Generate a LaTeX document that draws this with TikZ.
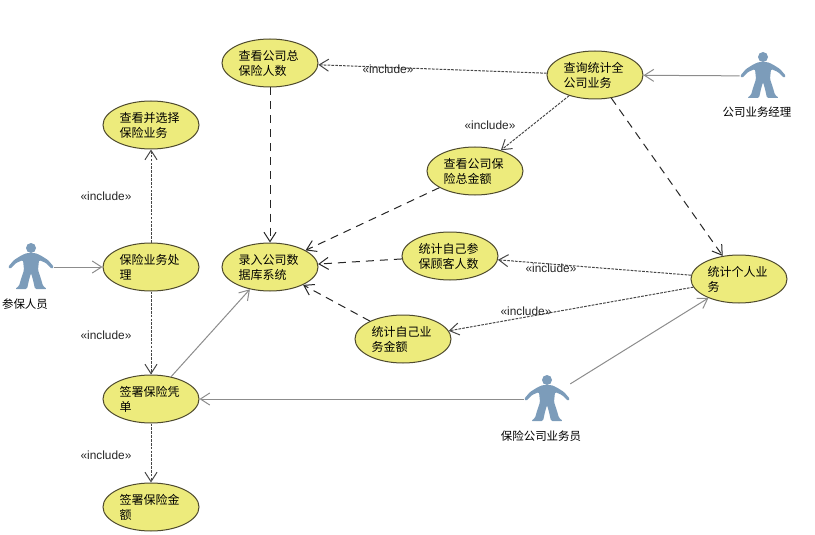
\documentclass[tikz,border=0pt]{standalone}
\usepackage{fontspec}
\setmainfont{Liberation Sans}
\newfontfamily\cjk{Noto Sans CJK SC}
\usetikzlibrary{arrows.meta,shapes.geometric}
\definecolor{usefill}{HTML}{EDEB7C}
\definecolor{useline}{HTML}{4F4B2E}
\definecolor{actorblue}{HTML}{7C9CBA}
\tikzset{
  usecase/.style={ellipse,draw=useline,fill=usefill,line width=0.75pt,minimum width=72pt,minimum height=36pt,inner sep=0pt,text width=47pt,align=left,font=\cjk\fontsize{9}{11.2}\selectfont},
  actorbox/.style={rectangle,minimum width=34.5pt,minimum height=34.5pt,inner sep=0pt},
  actorname/.style={font=\cjk\fontsize{8.6}{10}\selectfont},
  stereo/.style={font=\fontsize{8.9}{10}\selectfont,text=black!85},
  incl/.style={-{Straight Barb[length=7pt,width=9pt]},draw=black!72,line width=0.75pt,dash pattern=on 2pt off 0.9pt},
  dep/.style={-{Straight Barb[length=7pt,width=9pt]},draw=black!85,line width=0.75pt,dash pattern=on 6pt off 4.5pt},
  assoc/.style={-{Straight Barb[length=7pt,width=9pt]},draw=black!45,line width=0.75pt},
  actorfig/.pic={
    \fill[actorblue] (0,-19) circle (5);
    \fill[actorblue,rounded corners=1pt] (-4,-14) -- (4,-14) -- (9,-12) -- (17,-7) -- (23,0) -- (21,2) -- (15,-4) -- (8,-7) -- (7,3) -- (10,12) -- (12,19) -- (16,22) -- (4,22) -- (2,13) -- (0,6) -- (-2,13) -- (-4,22) -- (-16,22) -- (-12,19) -- (-10,12) -- (-7,3) -- (-8,-7) -- (-15,-4) -- (-21,2) -- (-23,0) -- (-17,-7) -- (-9,-12) -- cycle;
  }
}
\begin{document}
\begin{tikzpicture}[x=0.75pt,y=-0.75pt]

\useasboundingbox (0,0) rectangle (815,535);

% use cases, left column
\node (choose) at (151,125) [usecase]{查看并选择\\保险业务};
\node (handle) at (151,267) [usecase]{保险业务处\\理};
\node (sign) at (151,399) [usecase]{签署保险凭\\单};
\node (amount) at (151,507) [usecase]{签署保险金\\额};

% use cases, middle
\node (total) at (270,63) [usecase]{查看公司总\\保险人数};
\node (entry) at (270,267) [usecase]{录入公司数\\据库系统};
\node (sum) at (475,171) [usecase]{查看公司保\\险总金额};
\node (clients) at (450,256) [usecase]{统计自己参\\保顾客人数};
\node (own) at (403,339) [usecase]{统计自己业\\务金额};

% use cases, right
\node (query) at (595,75) [usecase]{查询统计全\\公司业务};
\node (person) at (739,279) [usecase]{统计个人业\\务};

% actors
\node (insured) at (31,267) [actorbox]{};
\pic at (insured) {actorfig};
\node (insuredname) at (25,304) [actorname]{参保人员};

\node (manager) at (763,76) [actorbox]{};
\pic at (manager) {actorfig};
\node (managername) at (757,112) [actorname]{公司业务经理};

\node (clerk) at (547,399) [actorbox]{};
\pic at (clerk) {actorfig};
\node (clerkname) at (541,436) [actorname]{保险公司业务员};

% include
\draw[incl] (handle) -- (choose);
\draw[incl] (handle) -- (sign);
\draw[incl] (sign) -- (amount);
\draw[incl] (query) -- (total);
\draw[incl] (query) -- (sum);
\draw[incl] (person) -- (clients);
\draw[incl] (person) -- (own);

% long dashes
\draw[dep] (total) -- (entry);
\draw[dep] (sum) -- (entry);
\draw[dep] (clients) -- (entry);
\draw[dep] (own) -- (entry);
\draw[dep] (query) -- (person);

% solid
\draw[assoc] (insured) -- (handle);
\draw[assoc] (sign) -- (entry);
\draw[assoc] (clerk) -- (sign);
\draw[assoc] (clerk.33) -- (person);
\draw[assoc] (manager) -- (query);

\node (lab1) at (106,196) [stereo]{«include»};
\node (lab2) at (106,335) [stereo]{«include»};
\node (lab3) at (106,455) [stereo]{«include»};
\node (lab4) at (388,69) [stereo]{«include»};
\node (lab5) at (490,125) [stereo]{«include»};
\node (lab6) at (551,268) [stereo]{«include»};
\node (lab7) at (526,311) [stereo]{«include»};

\end{tikzpicture}
\end{document}
